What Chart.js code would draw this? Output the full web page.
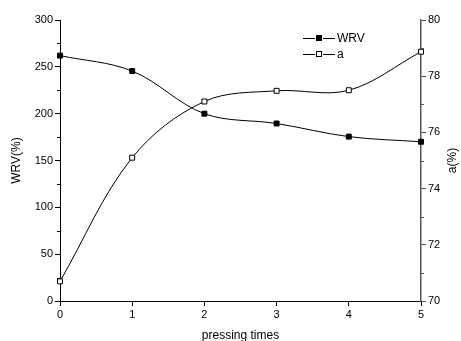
<!DOCTYPE html>
<html>
<head>
<meta charset="utf-8">
<script src="https://cdn.jsdelivr.net/npm/chart.js@4/dist/chart.umd.min.js"></script>
<style>
  html, body { margin: 0; padding: 0; background: #fff; }
  #wrap { width: 461px; height: 341px; }
</style>
</head>
<body>
<div id="wrap"><canvas id="grafic"></canvas></div>
<script>
// date
const pressingTimes = [0, 1, 2, 3, 4, 5];
const wrvValues = [262, 245.5, 200, 189.5, 175.5, 170];
const aValues = [70.7, 75.1, 77.1, 77.48, 77.5, 78.87];
const wrvTicks = [0, 50, 100, 150, 200, 250, 300];
const aTicks = [70, 72, 74, 76, 78, 80];

const font = 'Liberation Sans, Arial, sans-serif';

// minor ticks + legenda + titlul axei drepte
const extras = {
  id: 'extras',
  afterDraw(chart) {
    const ctx = chart.ctx;
    const area = chart.chartArea;
    const y = chart.scales.y;
    const y1 = chart.scales.y1;
    ctx.save();
    ctx.lineWidth = 1;
    ctx.strokeStyle = '#000';
    for (let v = 25; v < 300; v += 50) {
      const py = Math.round(y.getPixelForValue(v)) + 0.5;
      ctx.beginPath();
      ctx.moveTo(area.left - 3, py);
      ctx.lineTo(area.left, py);
      ctx.stroke();
    }
    ctx.strokeStyle = '#555';
    for (let v = 71; v < 80; v += 2) {
      const py = Math.round(y1.getPixelForValue(v)) + 0.5;
      ctx.beginPath();
      ctx.moveTo(area.right, py);
      ctx.lineTo(area.right + 3, py);
      ctx.stroke();
    }

    // legenda
    const rows = [
      { label: 'WRV', fill: '#000', y: 38 },
      { label: 'a', fill: '#fff', y: 54 }
    ];
    ctx.font = '12px ' + font;
    ctx.textBaseline = 'middle';
    rows.forEach((r) => {
      ctx.strokeStyle = '#000';
      ctx.beginPath();
      ctx.moveTo(303, r.y + 0.5);
      ctx.lineTo(315, r.y + 0.5);
      ctx.moveTo(323, r.y + 0.5);
      ctx.lineTo(335, r.y + 0.5);
      ctx.stroke();
      ctx.fillStyle = r.fill;
      ctx.fillRect(316, r.y - 3, 6, 6);
      ctx.strokeRect(316.5, r.y - 2.5, 5, 5);
      ctx.fillStyle = '#000';
      ctx.fillText(r.label, 337, r.y + 1);
    });

    // a(%) citit de jos in sus, ca in original
    ctx.translate(453, (area.top + area.bottom) / 2);
    ctx.rotate(-Math.PI / 2);
    ctx.textAlign = 'center';
    ctx.fillText('a(%)', 0, 0);
    ctx.restore();
  }
};

new Chart(document.getElementById('grafic'), {
  type: 'line',
  data: {
    labels: pressingTimes,
    datasets: [
      {
        label: 'WRV',
        data: pressingTimes.map((x, i) => ({ x, y: wrvValues[i] })),
        yAxisID: 'y',
        borderColor: '#000',
        borderWidth: 1,
        tension: 0.35,
        pointStyle: 'rect',
        pointRadius: 3.5,
        pointBackgroundColor: '#000',
        pointBorderColor: '#000',
        pointBorderWidth: 1,
        clip: false
      },
      {
        label: 'a',
        data: pressingTimes.map((x, i) => ({ x, y: aValues[i] })),
        yAxisID: 'y1',
        borderColor: '#000',
        borderWidth: 1,
        tension: 0.35,
        pointStyle: 'rect',
        pointRadius: 3.5,
        pointBackgroundColor: '#fff',
        pointBorderColor: '#000',
        pointBorderWidth: 1,
        clip: false
      }
    ]
  },
  options: {
    responsive: true,
    maintainAspectRatio: false,
    animation: false,
    layout: { padding: { top: 20, left: 0, right: 0, bottom: 0 } },
    plugins: {
      legend: { display: false },
      tooltip: { enabled: false }
    },
    scales: {
      x: {
        type: 'linear',
        min: 0,
        max: 5,
        afterFit: (s) => { s.height = 40; },
        afterBuildTicks: (s) => { s.ticks = pressingTimes.map((v) => ({ value: v })); },
        ticks: { color: '#000', font: { family: font, size: 11 }, padding: 2, maxRotation: 0 },
        grid: { drawOnChartArea: false, tickLength: 5, color: '#000' },
        border: { color: '#000', width: 1 },
        title: {
          display: true,
          text: 'pressing times',
          color: '#000',
          font: { family: font, size: 12 },
          padding: { top: 0, bottom: -2 }
        }
      },
      y: {
        position: 'left',
        min: 0,
        max: 300,
        afterFit: (s) => { s.width = 60; },
        afterBuildTicks: (s) => { s.ticks = wrvTicks.map((v) => ({ value: v })); },
        ticks: { color: '#000', font: { family: font, size: 11 }, padding: 2 },
        grid: { drawOnChartArea: false, tickLength: 5, color: '#000' },
        border: { color: '#000', width: 1 },
        title: {
          display: true,
          text: 'WRV(%)',
          color: '#000',
          font: { family: font, size: 12 },
          padding: { top: 9, bottom: 0 }
        }
      },
      y1: {
        position: 'right',
        min: 70,
        max: 80,
        afterFit: (s) => { s.width = 40; },
        afterBuildTicks: (s) => { s.ticks = aTicks.map((v) => ({ value: v })); },
        ticks: { color: '#000', font: { family: font, size: 11 }, padding: 2 },
        grid: { drawOnChartArea: false, tickLength: 5, color: '#555' },
        border: { color: '#555', width: 1.5 }
      }
    }
  },
  plugins: [extras]
});
</script>
</body>
</html>
